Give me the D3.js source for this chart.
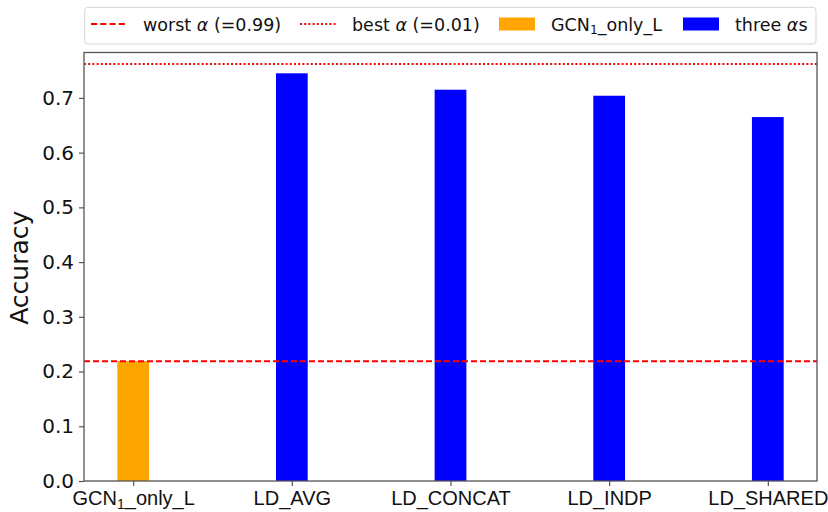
<!DOCTYPE html>
<html>
<head>
<meta charset="utf-8">
<script src="https://cdn.jsdelivr.net/npm/d3@7"></script>
<style>
  html, body { margin: 0; padding: 0; background: #fff; }
  svg { display: block; font-family: "DejaVu Sans", sans-serif; }
</style>
</head>
<body>
<svg id="chart" width="828" height="512"></svg>
<script>
// ---- data ----
const categories = ["GCN₁_only_L", "LD_AVG", "LD_CONCAT", "LD_INDP", "LD_SHARED"];
const accuracy = [0.219, 0.745, 0.715, 0.704, 0.665];
const barGroup = ["GCN", "three", "three", "three", "three"];
const worstAlpha = 0.219;
const bestAlpha = 0.762;
const yTicks = [0.0, 0.1, 0.2, 0.3, 0.4, 0.5, 0.6, 0.7];
const legendLabels = ["worst α (=0.99)", "best α (=0.01)", "GCN₁_only_L", "three αs"];

// ---- layout ----
const svg = d3.select("#chart");
const plot = { left: 84, right: 817, top: 52.5, bottom: 481 };
const colors = { GCN: "#ffa500", three: "#0000ff" };
const axisColor = "#555";

const x = d3.scaleLinear().domain([-0.31, categories.length - 1 + 0.31]).range([plot.left, plot.right]);
const y = d3.scaleLinear().domain([0, 0.783]).range([plot.bottom, plot.top]);
const barW = x(0.2) - x(0);

// bars
svg.append("g").selectAll("rect").data(accuracy).join("rect")
  .attr("x", (d, i) => x(i) - barW / 2)
  .attr("y", d => y(d))
  .attr("width", barW)
  .attr("height", d => y(0) - y(d))
  .attr("fill", (d, i) => colors[barGroup[i]]);

// reference lines
svg.append("line")
  .attr("x1", plot.left).attr("x2", plot.right)
  .attr("y1", y(worstAlpha)).attr("y2", y(worstAlpha))
  .attr("stroke", "#ff0000").attr("stroke-width", 2)
  .attr("stroke-dasharray", "6,3");
svg.append("line")
  .attr("x1", plot.left).attr("x2", plot.right)
  .attr("y1", y(bestAlpha)).attr("y2", y(bestAlpha))
  .attr("stroke", "#ff0000").attr("stroke-width", 2)
  .attr("stroke-dasharray", "2,2.2");

// helper for labels with subscript ₁ and italic α
function richText(sel, str, subDy) {
  const parts = str.split(/(₁|α)/).filter(p => p.length);
  let shifted = false;
  parts.forEach(p => {
    if (p === "₁") {
      sel.append("tspan").attr("font-size", "70%").attr("dy", subDy).text("1");
      shifted = true;
    } else if (p === "α") {
      const t = sel.append("tspan").attr("font-style", "italic").text("α");
      if (shifted) { t.attr("dy", -subDy); shifted = false; }
    } else {
      const t = sel.append("tspan").text(p);
      if (shifted) { t.attr("dy", -subDy); shifted = false; }
    }
  });
}

// axes
const yAxis = d3.axisLeft(y).tickValues(yTicks).tickFormat(d3.format(".1f")).tickSize(5).tickPadding(5);
const gy = svg.append("g").attr("transform", `translate(${plot.left},0)`).call(yAxis);
gy.select(".domain").remove();
gy.selectAll(".tick line").attr("stroke", axisColor).attr("stroke-width", 1.2);
gy.selectAll(".tick text").attr("font-size", 20).attr("fill", "#111")
  .attr("font-family", "DejaVu Sans");

const xAxis = d3.axisBottom(x).tickValues(d3.range(categories.length)).tickFormat("").tickSize(5);
const gx = svg.append("g").attr("transform", `translate(0,${plot.bottom})`).call(xAxis);
gx.select(".domain").remove();
gx.selectAll(".tick line").attr("stroke", axisColor).attr("stroke-width", 1.2);
gx.selectAll(".tick").each(function(d) {
  const t = d3.select(this).append("text")
    .attr("y", 24).attr("text-anchor", "middle")
    .attr("font-size", 20).attr("fill", "#111");
  richText(t, categories[d], 4);
});

// spines
svg.append("rect")
  .attr("x", plot.left).attr("y", plot.top)
  .attr("width", plot.right - plot.left).attr("height", plot.bottom - plot.top)
  .attr("fill", "none").attr("stroke", axisColor).attr("stroke-width", 1.3);

// y label
svg.append("text")
  .attr("transform", `translate(28,${(plot.top + plot.bottom) / 2 + 1}) rotate(-90)`)
  .attr("text-anchor", "middle").attr("font-size", 25).attr("fill", "#111")
  .text("Accuracy");

// legend
const lg = svg.append("g");
lg.append("rect")
  .attr("x", 84.7).attr("y", 7.3).attr("width", 816 - 84.7).attr("height", 44 - 7.3)
  .attr("rx", 3).attr("fill", "#fff").attr("stroke", "#d5d5d5").attr("stroke-width", 1);
const legendX = [91, 300, 499, 683];
const legendKinds = ["dashed", "dotted", "GCN", "three"];
legendLabels.forEach((lab, i) => {
  const hx = legendX[i];
  const kind = legendKinds[i];
  if (kind === "dashed" || kind === "dotted") {
    lg.append("line").attr("x1", hx).attr("x2", hx + 36).attr("y1", 24).attr("y2", 24)
      .attr("stroke", "#ff0000").attr("stroke-width", 2)
      .attr("stroke-dasharray", kind === "dashed" ? "6,3.3" : "2,2.2");
  } else {
    lg.append("rect").attr("x", hx).attr("y", 17.5).attr("width", 36).attr("height", 13)
      .attr("fill", colors[kind]);
  }
  const t = lg.append("text").attr("x", hx + 52).attr("y", 30.5)
    .attr("font-size", 17.5).attr("fill", "#111");
  richText(t, lab, 3.5);
});
</script>
</body>
</html>
